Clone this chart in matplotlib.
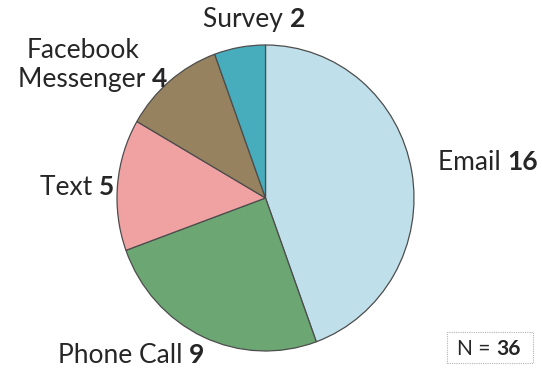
import matplotlib.pyplot as plt

# -- data ------------------------------------------------------------------
labels = ["Email", "Phone Call", "Text", "Facebook\nMessenger", "Survey"]
counts = [16, 9, 5, 4, 2]
colors = ["#bfdfea", "#6ba673", "#f0a2a2", "#97825f", "#47adbd"]
total = sum(counts)

plt.rcParams["font.family"] = ["Lato", "DejaVu Sans"]

W, H = 542, 370
cx, cy = 265.5, 198        # pie centre in pixels (from top-left)
rx, ry = 148.5, 153        # the original pie is slightly taller than wide

fig = plt.figure(figsize=(W / 100, H / 100), dpi=100)
ax = fig.add_axes([0, 0, 1, 1])
ax.pie(counts, colors=colors, startangle=90, counterclock=False,
       radius=1.0, center=(0, 0), frame=False,
       wedgeprops=dict(edgecolor="#4d4d4d", linewidth=0.9))
ax.set_aspect("auto")
ax.set_xlim(-cx / rx, (W - cx) / rx)
ax.set_ylim(-(H - cy) / ry, cy / ry)
ax.axis("off")

TXT = "#262626"
FS = 19
renderer = fig.canvas.get_renderer()


def px(x, y):
    return (x - cx) / rx, (cy - y) / ry


def label(x, y, name, value, fs=FS):
    # x = left edge, y = baseline (pixels); bold value on the same baseline
    t = ax.text(*px(x, y), name + " ", ha="left", va="baseline",
                fontsize=fs, color=TXT)
    right = t.get_window_extent(renderer).x1
    xr = ax.transData.inverted().transform((right, 0))[0]
    ax.text(xr, px(x, y)[1], str(value), ha="left", va="baseline",
            fontsize=fs, fontweight="bold", color=TXT)


label(438, 170, "Email", counts[0])
label(58, 363, "Phone Call", counts[1])
label(40, 195, "Text", counts[2])
ax.text(*px(27, 58), "Facebook", ha="left", va="baseline",
        fontsize=FS, color=TXT)
label(18, 87, "Messenger", counts[3])
label(203, 27, "Survey", counts[4])

# N box
label(457, 355, "N =", total, fs=15)
x0, y0 = px(447, 363)
x1, y1 = px(533, 332)
ax.add_patch(plt.Rectangle((x0, y0), x1 - x0, y1 - y0, fill=False,
                           edgecolor="#b5b5b5", linewidth=0.8,
                           linestyle=(0, (1, 1))))

fig.savefig("out.png", dpi=100)
